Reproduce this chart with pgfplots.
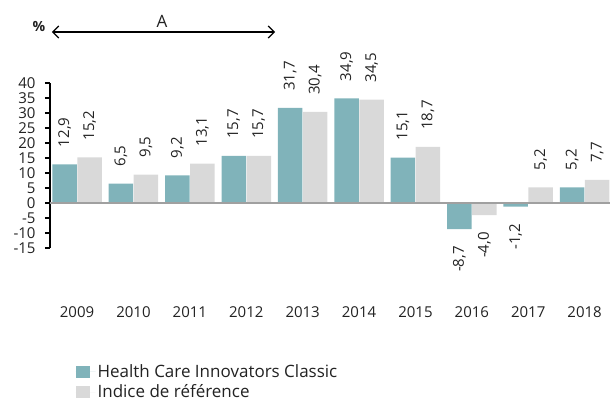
\documentclass[border=0pt]{standalone}
\usepackage{pgfplots}
\pgfplotsset{compat=1.18}
\usepackage{fontspec}
\setmainfont{Open Sans}
\usetikzlibrary{arrows.meta}
\definecolor{teal1}{HTML}{80B3BA}
\definecolor{grey1}{HTML}{D9D9D9}
\definecolor{zline}{HTML}{A0A0A0}
\definecolor{txt}{HTML}{222222}
\pgfplotsset{sqlegend/.style={legend image code/.code={\fill[##1,draw=none] (0bp,-6bp) rectangle (14bp,6bp); \path (0bp,0bp) -- (20bp,0bp);}}}
\begin{document}
\begin{tikzpicture}[font=\fontsize{15bp}{17bp}\selectfont, text=txt]
\begin{axis}[
  at={(0,0)}, anchor=south west,
  scale only axis, width=560bp, height=165bp,
  xmin=-0.48, xmax=9.45, ymin=-15, ymax=40,
  clip=false,
  ybar=0.5bp, bar width=24.5bp,
  axis y line*=left, axis x line*=bottom,
  x axis line style={draw=none},
  y axis line style={black, line width=1.2bp},
  xtick={0,1,2,3,4,5,6,7,8,9},
  xticklabels={2009,2010,2011,2012,2013,2014,2015,2016,2017,2018},
  xtick style={draw=none},
  x tick label style={yshift=-50bp},
  ytick={-15,-10,-5,0,5,10,15,20,25,30,35,40},
  tick align=outside, major tick length=5bp,
  ytick style={black, line width=1.2bp},
  y tick label style={xshift=-6bp},
  /pgf/number format/assume math mode=true,
  nodes near coords,
  point meta=y,
  nodes near coords style={/pgf/number format/fixed, /pgf/number format/fixed zerofill, /pgf/number format/precision=1, /pgf/number format/use comma, /pgf/number format/assume math mode=true},
  visualization depends on={rawy \as \rawy},
  every node near coord/.append style={rotate=90, anchor={\ifdim\rawy pt<0pt east\else west\fi}, inner xsep=17bp, font=\fontsize{15bp}{17bp}\selectfont},
  legend style={at={(0.04,-0.68)}, anchor=north west, draw=none, fill=none, row sep=2bp, font=\fontsize{17bp}{19bp}\selectfont},
  legend cell align=left,
]
\addplot[fill=teal1, draw=none, sqlegend] coordinates {(0,12.9) (1,6.5) (2,9.2) (3,15.7) (4,31.7) (5,34.9) (6,15.1) (7,-8.7) (8,-1.2) (9,5.2)};
\addplot[fill=grey1, draw=none, sqlegend] coordinates {(0,15.2) (1,9.5) (2,13.1) (3,15.7) (4,30.4) (5,34.5) (6,18.7) (7,-4.0) (8,5.2) (9,7.7)};
\legend{Health Care Innovators Classic, Indice de référence}
\draw[zline, line width=2bp] (axis cs:-0.48,0) -- (axis cs:9.45,0);
\draw[{Straight Barb[length=6bp,width=12bp]}-{Straight Barb[length=6bp,width=12bp]}, line width=1.2bp, black] (axis cs:-0.445,57) -- (axis cs:3.51,57);
\node[font=\fontsize{17bp}{19bp}\selectfont] at (axis cs:1.506,60.5) {A};
\node[font=\fontsize{14bp}{16bp}\selectfont\bfseries] at (axis cs:-0.675,59) {\%};
\end{axis}
\pgfresetboundingbox
\path (-50bp,-153bp) rectangle (560bp,248bp);
\end{tikzpicture}
\end{document}
